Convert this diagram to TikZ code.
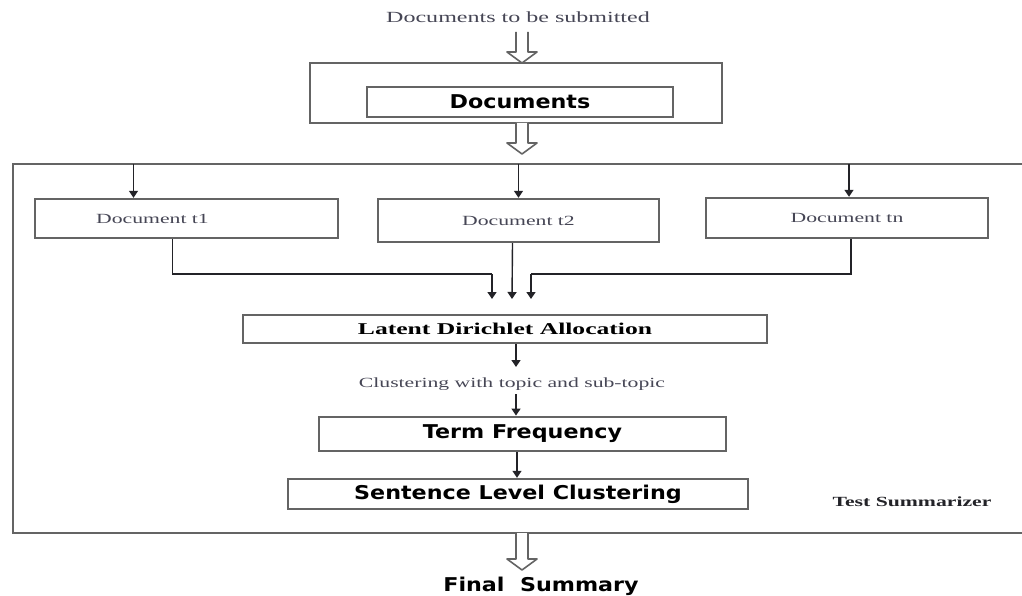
\documentclass[tikz,border=0pt]{standalone}
\usepackage{fontspec}
\usetikzlibrary{arrows.meta,positioning,calc}
\newfontfamily\docserif[FakeStretch=1.55]{Liberation Serif}
\newfontfamily\docsans[FakeStretch=1.17]{DejaVu Sans}
\definecolor{frame}{RGB}{100,100,100}
\definecolor{ink}{RGB}{35,35,40}
\definecolor{faded}{RGB}{70,70,85}
\tikzset{
  >={Triangle[length=7pt,width=9pt]},
  box/.style={draw=frame,line width=2.4pt,fill=white,inner sep=0pt,align=center},
  small text/.style={font=\docserif\fontsize{14}{16}\selectfont,text=faded,inner sep=1pt},
  big text/.style={font=\docsans\bfseries\fontsize{19}{21}\selectfont,text=black},
  lda text/.style={font=\docserif\bfseries\fontsize{16.5}{18}\selectfont,text=black},
  flow/.style={->,line width=1.4pt,draw=ink},
  link/.style={line width=1.4pt,draw=ink},
  % hollow block arrow, #1 = length
  pics/hollow/.style={code={
    \draw[frame,line width=1.6pt,fill=white,line join=round]
      (-6,0) -- (-6,{#1-11}) -- (-15,{#1-11}) -- (0,#1) -- (15,{#1-11}) -- (6,{#1-11}) -- (6,0);
  }},
  pics/hollow/.default=30,
}
\begin{document}
\begin{tikzpicture}[x=1pt,y=-1pt]
  \useasboundingbox (0,0) rectangle (1022,596);
  % input
  \node[small text,font=\docserif\fontsize{15.5}{17}\selectfont] (sub) at (518,17) {Documents to be submitted};
  \node[box,minimum width=412,minimum height=60] (outer) at (516,93) {};
  \node[box,big text,minimum width=306,minimum height=30] (docs) at (520,102) {Documents};
  \pic at (522,32) {hollow=31};
  \pic at (522,123) {hollow=31};
  % summarizer frame
  \coordinate (ftop) at (13,164);
  \coordinate (fbot) at (522,533);
  \draw[frame,line width=2.4pt] (1022,164) -- (ftop) -- (13,533) -- (1022,533);
  \node[box,small text,text=faded,minimum width=303,minimum height=39] (t1) at (186.5,218.5) {\hspace*{-68pt}Document t1};
  \node[box,small text,text=faded,minimum width=281,minimum height=43] (t2) at (518.5,220.5) {Document t2};
  \node[box,small text,text=faded,minimum width=282,minimum height=40] (tn) at (847,218) {Document tn};
  \foreach \n/\dx in {t1/-53,t2/0,tn/2}
    \draw[flow] ([xshift=\dx]\n.north |- ftop) -- ([xshift=\dx]\n.north);
  % merge into LDA
  \node[box,lda text,minimum width=524,minimum height=28] (lda) at (505,329) {Latent Dirichlet Allocation};
  \coordinate (m1) at (492,299);
  \coordinate (m2) at (512,299);
  \coordinate (m3) at (531,299);
  \draw[link] ([xshift=-14]t1.south) |- (492,274) coordinate (c1);
  \draw[flow] (c1) -- (m1);
  \draw[flow] ([xshift=-6]t2.south) -- (m2);
  \draw[link] ([xshift=4]tn.south) |- (531,274) coordinate (c3);
  \draw[flow] (c3) -- (m3);
  % pipeline
  \node[small text] (clus) at (512,384) {Clustering with topic and sub-topic};
  \node[box,big text,minimum width=407,minimum height=34,line width=2.8pt] (tf) at (522.5,434) {Term Frequency};
  \node[box,big text,minimum width=460,minimum height=30] (slc) at (518,494) {Sentence Level Clustering};
  \draw[flow] (lda.south -| 516,0) -- (516,367);
  \draw[flow] (516,394) -- (tf.north -| 516,0);
  \draw[flow] (tf.south -| 517,0) -- (slc.north -| 517,0);
  \node[small text,font=\docserif\bfseries\fontsize{14}{16}\selectfont,text=ink] (ts) at (912,502) {Test Summarizer};
  % output
  \pic at (fbot) {hollow=37};
  \node[big text] (fin) at (541,586) {Final\ \ Summary};
\end{tikzpicture}
\end{document}
